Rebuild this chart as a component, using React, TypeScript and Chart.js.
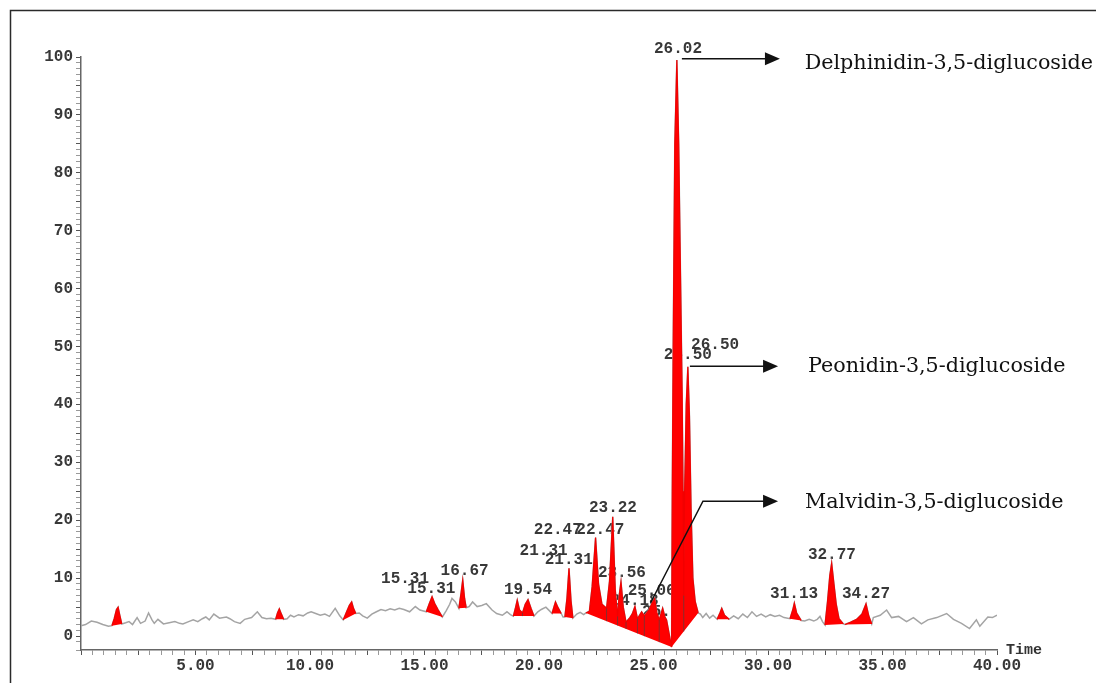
import React, { useEffect, useRef } from 'react';
import { Chart, registerables } from 'chart.js';
Chart.register(...registerables);

// ---- Chromatogram trace (time in minutes, relative intensity) ----
const traceTime = [
  0.0, 0.2, 0.45, 0.7, 0.95, 1.2, 1.35, 1.45, 1.55, 1.62, 1.7, 1.78, 1.95, 2.1, 2.25, 2.45, 2.6, 2.8, 2.95, 3.1,
  3.2, 3.36, 3.6, 3.85, 4.1, 4.3, 4.45, 4.7, 4.9, 5.1, 5.3, 5.45, 5.6, 5.8, 6.05, 6.35, 6.5, 6.7, 6.95, 7.15,
  7.45, 7.7, 7.9, 8.1, 8.3, 8.5, 8.58, 8.66, 8.75, 8.85, 9.0, 9.15, 9.3, 9.5, 9.7, 9.9, 10.05, 10.25, 10.45, 10.65,
  10.85, 11.1, 11.3, 11.45, 11.6, 11.72, 11.82, 11.9, 12.0, 12.15, 12.3, 12.5, 12.7, 12.9, 13.1, 13.3, 13.5, 13.7, 13.9, 14.1,
  14.35, 14.6, 14.8, 15.08, 15.2, 15.33, 15.45, 15.6, 15.78, 15.95, 16.1, 16.2, 16.35, 16.5, 16.6, 16.67, 16.75, 16.82, 16.95, 17.1,
  17.3, 17.5, 17.7, 17.95, 18.15, 18.4, 18.6, 18.75, 18.88, 18.98, 19.05, 19.15, 19.28, 19.4, 19.52, 19.65, 19.78, 19.95, 20.1, 20.3,
  20.45, 20.57, 20.65, 20.72, 20.82, 20.97, 21.05, 21.13, 21.22, 21.31, 21.4, 21.48, 21.65, 21.8, 21.95, 22.05, 22.2, 22.32, 22.47, 22.6,
  22.75, 22.95, 23.08, 23.22, 23.33, 23.43, 23.5, 23.58, 23.68, 23.8, 23.97, 24.08, 24.19, 24.3, 24.48, 24.6, 24.8, 24.95, 25.05, 25.15,
  25.25, 25.4, 25.5, 25.57, 25.79, 25.82, 25.86, 25.93, 26.02, 26.1, 26.18, 26.25, 26.29, 26.32, 26.36, 26.43, 26.5, 26.57, 26.64, 26.72,
  26.82, 26.95, 27.05, 27.15, 27.3, 27.45, 27.6, 27.78, 27.9, 27.98, 28.1, 28.3, 28.5, 28.7, 28.9, 29.1, 29.3, 29.5, 29.7, 29.9,
  30.1, 30.3, 30.5, 30.7, 30.96, 31.08, 31.15, 31.25, 31.45, 31.6, 31.8, 32.0, 32.15, 32.27, 32.38, 32.49, 32.6, 32.7, 32.78, 32.88,
  32.98, 33.1, 33.29, 33.36, 33.6, 33.87, 34.1, 34.28, 34.4, 34.53, 34.6, 34.9, 35.18, 35.4, 35.7, 36.05, 36.35, 36.7, 36.98, 37.37,
  37.8, 38.1, 38.45, 38.8, 39.1, 39.25, 39.6, 39.8, 40.0,
];
const traceValue = [
  1.8, 2.0, 2.6, 2.4, 2.0, 1.7, 1.8, 3.0, 4.6, 5.0, 3.5, 2.1, 2.3, 2.5, 2.0, 3.2, 2.2, 2.6, 4.0, 2.8,
  2.2, 2.9, 2.1, 2.3, 2.5, 2.2, 2.1, 2.5, 2.8, 2.5, 3.0, 3.3, 2.8, 3.8, 3.1, 3.3, 3.0, 2.5, 2.2, 2.9,
  3.2, 4.2, 3.2, 3.0, 3.1, 2.9, 4.0, 4.7, 3.8, 2.9, 3.0, 3.6, 3.3, 3.7, 3.5, 4.0, 4.2, 3.9, 3.6, 3.8,
  3.4, 4.8, 3.5, 2.8, 4.2, 5.3, 5.9, 4.8, 3.9, 4.0, 3.5, 3.1, 3.8, 4.2, 4.6, 4.4, 4.7, 4.5, 4.8, 4.6,
  4.2, 5.1, 4.5, 4.2, 5.5, 6.8, 5.6, 4.5, 3.3, 4.4, 5.5, 6.5, 5.9, 4.8, 7.5, 9.7, 6.5, 4.9, 5.1, 5.9,
  5.1, 5.3, 5.6, 4.5, 3.9, 3.6, 4.2, 3.7, 3.45, 5.0, 6.2, 4.5, 4.0, 5.5, 6.3, 4.8, 3.45, 4.2, 4.6, 5.0,
  4.4, 3.9, 5.0, 5.9, 5.0, 3.9, 3.3, 3.3, 6.5, 11.7, 6.0, 3.1, 3.8, 4.1, 3.7, 4.0, 4.3, 8.5, 17.0, 9.0,
  5.5, 4.8, 9.5, 20.6, 8.0, 3.4, 7.0, 9.4, 5.0, 2.4, 3.2, 3.9, 5.1, 3.0, 4.2, 3.5, 4.5, 5.8, 6.5, 4.0,
  2.8, 4.8, 3.3, 2.8, -1.9, 25, 50, 85, 99.5, 85, 62, 42, 25, 7.0, 25, 40, 46.5, 38, 22, 10,
  6.0, 4.0, 3.8, 3.2, 3.9, 3.1, 3.6, 2.9, 4.0, 4.8, 3.6, 2.9, 3.5, 3.0, 3.8, 3.2, 4.2, 3.4, 3.8, 3.3,
  3.7, 3.4, 3.6, 3.2, 3.0, 4.5, 5.7, 4.0, 2.7, 2.6, 2.9, 2.6, 2.9, 3.4, 2.5, 1.9, 6.0, 10.5, 12.6, 9.0,
  5.5, 3.0, 2.1, 2.0, 2.4, 2.9, 3.8, 5.6, 3.5, 2.1, 3.2, 3.6, 4.5, 3.2, 3.4, 2.5, 3.2, 2.1, 2.8, 3.2,
  3.9, 2.9, 2.2, 1.3, 2.8, 1.7, 3.3, 3.2, 3.6,
];

// ---- Integrated peak regions (start / end times on the trace) ----
const regionStart = [1.35, 8.5, 11.45, 15.08, 16.5, 18.88, 20.57, 21.13, 22.05, 25.79, 27.78, 30.96, 32.49, 33.36];
const regionEnd = [1.78, 8.85, 12.0, 15.78, 16.82, 19.78, 20.97, 21.48, 25.79, 26.95, 28.3, 31.45, 33.29, 34.53];
// valley drop lines inside merged regions
const dropTimes = [19.28, 22.95, 23.43, 23.8, 24.3, 24.6, 25.25, 26.32];

// ---- Retention time labels ----
const peakLabelText = ['15.31', '15.31', '16.67', '19.54', '21.31', '21.31', '22.47', '22.47', '23.22', '23.56', '24.18', '25.06', '25.69', '26.02', '26.50', '26.50', '31.13', '32.77', '34.27'];
const peakLabelTime = [14.15, 15.3, 16.75, 19.52, 20.2, 21.3, 20.82, 22.68, 23.23, 23.62, 24.18, 24.92, 25.55, 26.07, 27.69, 26.5, 31.14, 32.79, 34.28];
const peakLabelValue = [9.85, 8.2, 11.2, 7.9, 14.7, 13.2, 18.3, 18.3, 22.1, 10.9, 6.0, 7.8, 4.2, 101.4, 50.3, 48.5, 7.25, 14.0, 7.25];

// ---- Compound annotations ----
const compoundNames = ['Delphinidin-3,5-diglucoside', 'Peonidin-3,5-diglucoside', 'Malvidin-3,5-diglucoside'];
const compoundPathTime = [[26.24, 30.52], [26.59, 30.44], [24.88, 27.16, 30.44]];
const compoundPathValue = [[99.7, 99.7], [46.6, 46.6], [5.8, 23.3, 23.3]];
const compoundTextTime = [31.6, 31.75, 31.62];
const compoundTextValue = [98.9, 46.5, 23.0];

const xMin = 0;
const xMax = 40;
const yMin = -2.4;
const yMax = 100;

const idxOf = (t: number) => traceTime.findIndex((x) => Math.abs(x - t) < 1e-6);
const valueAt = (t: number) => traceValue[idxOf(t)];
const baselineAt = (t: number) => {
  for (let i = 0; i < regionStart.length; i++) {
    const s = regionStart[i];
    const e = regionEnd[i];
    if (t >= s && t <= e) {
      const vs = valueAt(s);
      const ve = valueAt(e);
      return vs + ((ve - vs) * (t - s)) / (e - s);
    }
  }
  return 0;
};

export default function App() {
  const ref = useRef<HTMLCanvasElement | null>(null);
  useEffect(() => {
    const canvas = ref.current;
    if (!canvas) return;
    const allPts = traceTime.map((t, i) => ({ x: t, y: traceValue[i] }));
    const datasets: any[] = [
      {
        label: 'trace',
        data: allPts,
        borderColor: '#a4a4a4',
        borderWidth: 1.5,
        pointRadius: 0,
        fill: false,
        tension: 0,
        order: 10,
      },
    ];
    regionStart.forEach((s, i) => {
      const e = regionEnd[i];
      const pts = allPts.filter((p) => p.x >= s - 1e-9 && p.x <= e + 1e-9);
      datasets.push({
        label: 'peak' + i,
        data: pts,
        borderColor: '#f20000',
        borderWidth: 1.2,
        backgroundColor: '#ff0000',
        fill: '+1',
        pointRadius: 0,
        tension: 0,
        order: 2,
      });
      datasets.push({
        label: 'base' + i,
        data: [
          { x: s, y: valueAt(s) },
          { x: e, y: valueAt(e) },
        ],
        borderColor: 'rgba(0,0,0,0)',
        borderWidth: 0,
        pointRadius: 0,
        fill: false,
        order: 2,
      });
    });
    const dropData: any[] = [];
    dropTimes.forEach((t) => {
      dropData.push({ x: t, y: baselineAt(t) }, { x: t, y: valueAt(t) }, { x: t, y: null });
    });
    datasets.push({
      label: 'drops',
      data: dropData,
      borderColor: 'rgba(70,70,70,0.8)',
      borderWidth: 0.8,
      pointRadius: 0,
      fill: false,
      spanGaps: false,
      order: 1,
    });

    const tickFont = { family: 'Liberation Mono', size: 16, weight: 'bold' as const };

    const decor = {
      id: 'decor',
      beforeDraw(chart: any) {
        const ctx = chart.ctx;
        ctx.save();
        ctx.fillStyle = '#ffffff';
        ctx.fillRect(0, 0, chart.width, chart.height);
        ctx.strokeStyle = '#2a2a2a';
        ctx.lineWidth = 1.5;
        ctx.beginPath();
        ctx.moveTo(10.5, chart.height);
        ctx.lineTo(10.5, 10.5);
        ctx.lineTo(chart.width, 10.5);
        ctx.stroke();
        ctx.restore();
      },
      beforeDatasetsDraw(chart: any) {
        const ctx = chart.ctx;
        const xs = chart.scales.x;
        const ys = chart.scales.y;
        ctx.save();
        ctx.font = 'bold 16px "Liberation Mono"';
        ctx.fillStyle = '#383838';
        ctx.textAlign = 'center';
        ctx.textBaseline = 'middle';
        peakLabelText.forEach((txt, i) => {
          ctx.fillText(txt, xs.getPixelForValue(peakLabelTime[i]), ys.getPixelForValue(peakLabelValue[i]));
        });
        ctx.restore();
      },
      afterDatasetsDraw(chart: any) {
        const ctx = chart.ctx;
        const xs = chart.scales.x;
        const ys = chart.scales.y;
        ctx.save();
        ctx.strokeStyle = '#111111';
        ctx.fillStyle = '#111111';
        ctx.lineWidth = 1.5;
        compoundNames.forEach((name, i) => {
          const px = compoundPathTime[i].map((t) => xs.getPixelForValue(t));
          const py = compoundPathValue[i].map((v) => ys.getPixelForValue(v));
          const n = px.length;
          const headLen = 15;
          ctx.beginPath();
          ctx.moveTo(px[0], py[0]);
          for (let k = 1; k < n - 1; k++) ctx.lineTo(px[k], py[k]);
          ctx.lineTo(px[n - 1] - headLen + 1, py[n - 1]);
          ctx.stroke();
          ctx.beginPath();
          ctx.moveTo(px[n - 1], py[n - 1]);
          ctx.lineTo(px[n - 1] - headLen, py[n - 1] - 6.5);
          ctx.lineTo(px[n - 1] - headLen, py[n - 1] + 6.5);
          ctx.closePath();
          ctx.fill();
          ctx.font = '20.7px "DejaVu Serif"';
          ctx.textAlign = 'left';
          ctx.textBaseline = 'middle';
          ctx.fillText(name, xs.getPixelForValue(compoundTextTime[i]), ys.getPixelForValue(compoundTextValue[i]));
        });
        ctx.font = 'bold 15px "Liberation Mono"';
        ctx.fillStyle = '#333333';
        ctx.textAlign = 'left';
        ctx.textBaseline = 'middle';
        ctx.fillText('Time', xs.right + 9, ys.bottom);
        ctx.restore();
      },
    };

    const chart = new Chart(canvas, {
      type: 'line',
      data: { datasets },
      options: {
        responsive: false,
        animation: false,
        devicePixelRatio: 1,
        parsing: true,
        layout: { padding: { left: 0, right: 99, top: 57, bottom: 0 } },
        plugins: {
          legend: { display: false },
          tooltip: { enabled: false },
        },
        scales: {
          x: {
            type: 'linear',
            min: xMin,
            max: xMax,
            afterFit: (s: any) => {
              s.height = 33;
            },
            ticks: {
              stepSize: 0.5,
              autoSkip: false,
              maxRotation: 0,
              minRotation: 0,
              padding: 1,
              font: tickFont,
              color: '#383838',
              callback: (v: any) => {
                const n = Number(v);
                return n > 0 && Math.abs(n / 5 - Math.round(n / 5)) < 1e-6 ? n.toFixed(2) : '';
              },
            },
            grid: {
              drawOnChartArea: false,
              drawTicks: true,
              tickLength: 5,
              tickColor: (c: any) => {
                const n = c.tick ? c.tick.value : 0;
                return Math.abs(n / 2.5 - Math.round(n / 2.5)) < 1e-6 ? '#555' : '#999';
              },
            },
            border: { display: true, color: '#666', width: 1.5 },
          },
          y: {
            type: 'linear',
            min: yMin,
            max: yMax,
            afterFit: (s: any) => {
              s.width = 81;
            },
            ticks: {
              stepSize: 1,
              autoSkip: false,
              padding: 3,
              font: tickFont,
              color: '#383838',
              callback: (v: any) => {
                const n = Number(v);
                return n >= 0 && Math.abs(n / 10 - Math.round(n / 10)) < 1e-6 ? String(Math.round(n)) : '';
              },
            },
            grid: {
              drawOnChartArea: false,
              drawTicks: true,
              tickLength: 5,
              tickColor: (c: any) => {
                const n = c.tick ? c.tick.value : 0;
                return Math.abs(n / 5 - Math.round(n / 5)) < 1e-6 ? '#555' : '#999';
              },
            },
            border: { display: true, color: '#666', width: 1.5 },
          },
        },
      },
      plugins: [decor],
    } as any);
    return () => chart.destroy();
  }, []);

  return (
    <div style={{ position: 'absolute', left: 0, top: 0, width: 1096, height: 683, background: '#fff' }}>
      <canvas ref={ref} width={1096} height={683} style={{ display: 'block', width: 1096, height: 683 }} />
    </div>
  );
}
